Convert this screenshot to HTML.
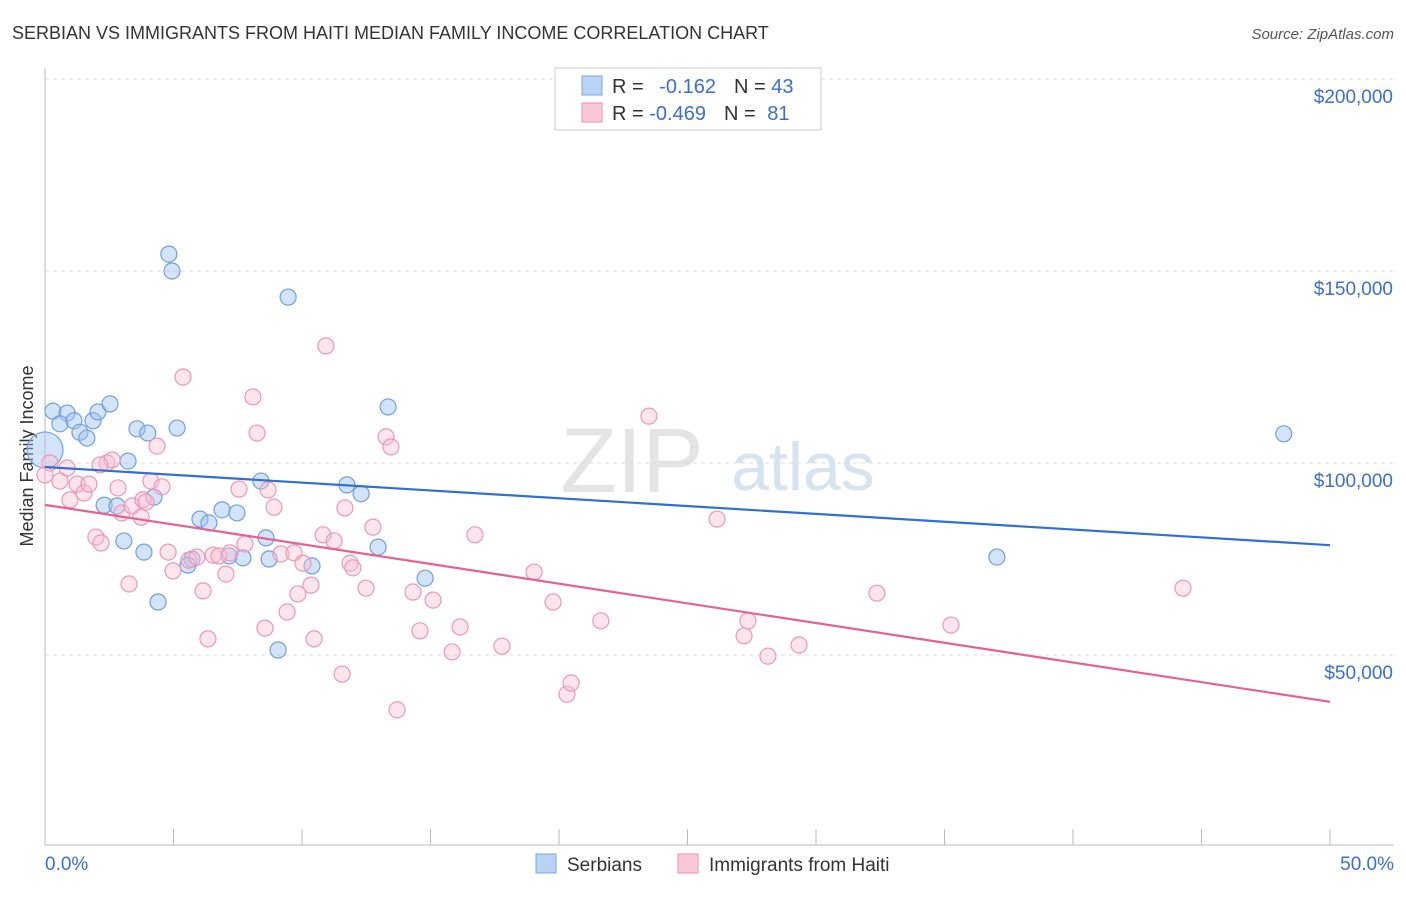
<!DOCTYPE html>
<html><head><meta charset="utf-8"><style>
body{margin:0;background:#fff;font-family:"Liberation Sans",sans-serif;}
svg text{font-family:"Liberation Sans",sans-serif;}
</style></head><body>
<svg id="chart" width="1406" height="892">
<text x="12" y="39" font-size="18" fill="#333">SERBIAN VS IMMIGRANTS FROM HAITI MEDIAN FAMILY INCOME CORRELATION CHART</text>
<text x="1394" y="39" font-size="15" fill="#555" font-style="italic" text-anchor="end">Source: ZipAtlas.com</text>
<text x="33" y="456" font-size="18" fill="#333" text-anchor="middle" transform="rotate(-90 33 456)">Median Family Income</text>
<text x="632" y="492" font-size="92" fill="#e4e4e4" font-family="Liberation Serif" text-anchor="middle">ZIP</text>
<text x="803" y="490" font-size="68" fill="#d6e3f3" text-anchor="middle">atlas</text>
<g id="grid"></g><g id="marks"></g>
<g>
<rect x="555" y="68" width="266" height="62" fill="#fff" stroke="#ccc"/>
<rect x="582" y="76" width="20" height="19" fill="#b9d3f5" stroke="#7aa7e6"/>
<rect x="582" y="103" width="20" height="19" fill="#fbc8d8" stroke="#ec8fae"/>
<text x="612" y="93" font-size="20" fill="#333">R = <tspan fill="#3a6fd0" dx="10">-0.162</tspan><tspan dx="18" fill="#333">N = </tspan><tspan fill="#3a6fd0">43</tspan></text>
<text x="612" y="120" font-size="20" fill="#333">R = <tspan fill="#3a6fd0">-0.469</tspan><tspan dx="18" fill="#333">N = </tspan><tspan fill="#3a6fd0" dx="6">81</tspan></text>
</g>
<g>
<rect x="536" y="854" width="20" height="19" fill="#b9d3f5" stroke="#7aa7e6"/>
<text x="567" y="871" font-size="19" fill="#333">Serbians</text>
<rect x="678" y="854" width="20" height="19" fill="#fbc8d8" stroke="#ec8fae"/>
<text x="709" y="871" font-size="19" fill="#333">Immigrants from Haiti</text>
</g>
</svg>
<script>
const yTicks=[50,100,150,200];
const yTickLabels=["$50,000","$100,000","$150,000","$200,000"];
const xTicks=[0,5,10,15,20,25,30,35,40,45,50];
const blueX=[0,0.31,0.86,0.58,1.13,1.36,1.63,1.87,2.06,2.53,3.58,4.0,5.14,4.82,4.94,9.46,13.35,48.2,3.23,8.4,11.75,12.3,4.24,2.3,2.8,6.03,6.38,6.89,7.47,3.07,8.6,3.85,12.96,5.72,7.7,8.72,7.16,5.56,10.39,14.79,4.4,9.07,37.04];
const blueY=[103.4,113.5,113,110.2,111,108,106.5,111,113.3,115.4,108.9,107.8,109.1,154.4,150,143.2,114.6,107.6,100.5,95.3,94.3,92,91.1,89,88.8,85.4,84.4,87.8,87,79.7,80.5,76.8,78.1,75,75.3,75,75.8,73.4,73.2,70,63.8,51.3,75.5];
const pinkX=[0.19,0,0.58,0.86,0.97,1.25,1.52,1.71,1.98,2.18,2.41,2.61,2.84,2.99,3.27,3.39,3.74,3.81,4.12,4.36,4.55,4.79,4.98,5.37,5.6,5.91,6.15,6.34,6.54,6.77,7.04,7.2,7.55,7.78,8.09,8.25,8.56,8.68,8.91,9.18,9.42,9.69,9.84,10.04,10.35,10.47,10.82,10.93,11.25,11.56,11.67,11.87,11.98,12.49,12.76,13.27,13.46,13.7,14.32,14.59,15.1,15.84,16.15,16.73,17.78,19.03,19.77,20.31,20.47,21.63,23.5,26.15,27.2,27.35,28.13,29.34,32.37,35.25,44.28,2.14,3.93];
const pinkY=[100,96.9,95.3,98.7,90.4,94.5,92.2,94.5,80.7,79.2,100,100.8,93.5,87,68.5,88.8,85.9,90.4,95.3,104.4,93.8,76.8,71.9,122.4,74.7,75.5,66.7,54.2,76,75.8,71.1,76.6,93.2,78.9,117.2,107.8,57,93,88.5,76.3,61.2,76.6,65.9,73.9,68.2,54.2,81.3,130.5,79.7,45,88.3,73.9,72.7,67.4,83.3,106.8,104.2,35.7,66.4,56.3,64.3,50.8,57.3,81.3,52.3,71.6,63.8,39.8,42.7,58.9,112.2,85.4,55,58.9,49.7,52.6,66.1,57.8,67.4,99.5,89.8];
const blueTrend=[98.96,78.6];
const pinkTrend=[89.1,37.8];
const NS="http://www.w3.org/2000/svg";
const xs=v=>45+v*1285/50;
const ys=v=>847-v*192/50;
function mk(tag,attrs,parent){const e=document.createElementNS(NS,tag);for(const k in attrs)e.setAttribute(k,attrs[k]);parent.appendChild(e);return e;}
const grid=document.getElementById('grid'),marks=document.getElementById('marks');
yTicks.forEach((t,i)=>{
 const l=mk('line',{x1:45,x2:1394,y1:ys(t),y2:ys(t),stroke:'#ddd','stroke-dasharray':'4,4'},grid);
 
 
 const tx=mk('text',{x:1393,y:ys(t)+24,'font-size':19,fill:'#3a6fd0','text-anchor':'end'},grid);
 tx.textContent=yTickLabels[i];
 
 
});
const topLine=mk('line',{x1:45,x2:1394,y1:79,y2:79,stroke:'#ddd','stroke-dasharray':'4,4'},grid);


const axX=mk('line',{x1:45,x2:1394,y1:845,y2:845,stroke:'#bbb'},grid);


const axY=mk('line',{x1:45,x2:45,y1:68,y2:845,stroke:'#bbb'},grid);


xTicks.forEach(t=>{const l=mk('line',{x1:xs(t),x2:xs(t),y1:829,y2:845,stroke:'#bbb'},grid);
 
 });
const xl0=mk('text',{x:45,y:870,'font-size':19,fill:'#3a6fd0'},grid);xl0.textContent='0.0%';


const xl1=mk('text',{x:1394,y:870,'font-size':19,fill:'#3a6fd0','text-anchor':'end'},grid);xl1.textContent='50.0%';


blueX.forEach((x,i)=>{const c=mk('circle',{cx:xs(x),cy:ys(blueY[i]),r:i==0?18:8,fill:'rgba(160,196,240,0.45)',stroke:'#6f9fe0','stroke-width':1.2},marks);
 
 });
pinkX.forEach((x,i)=>{const c=mk('circle',{cx:xs(x),cy:ys(pinkY[i]),r:8,fill:'rgba(250,190,210,0.4)',stroke:'#ec97b4','stroke-width':1.2},marks);
 
 });
const bt=mk('line',{x1:xs(0),y1:ys(blueTrend[0]),x2:xs(50),y2:ys(blueTrend[1]),stroke:'#2f6fd6','stroke-width':2.2},marks);


const pt=mk('line',{x1:xs(0),y1:ys(pinkTrend[0]),x2:xs(50),y2:ys(pinkTrend[1]),stroke:'#e8608f','stroke-width':2.2},marks);


</script>
</body></html>
